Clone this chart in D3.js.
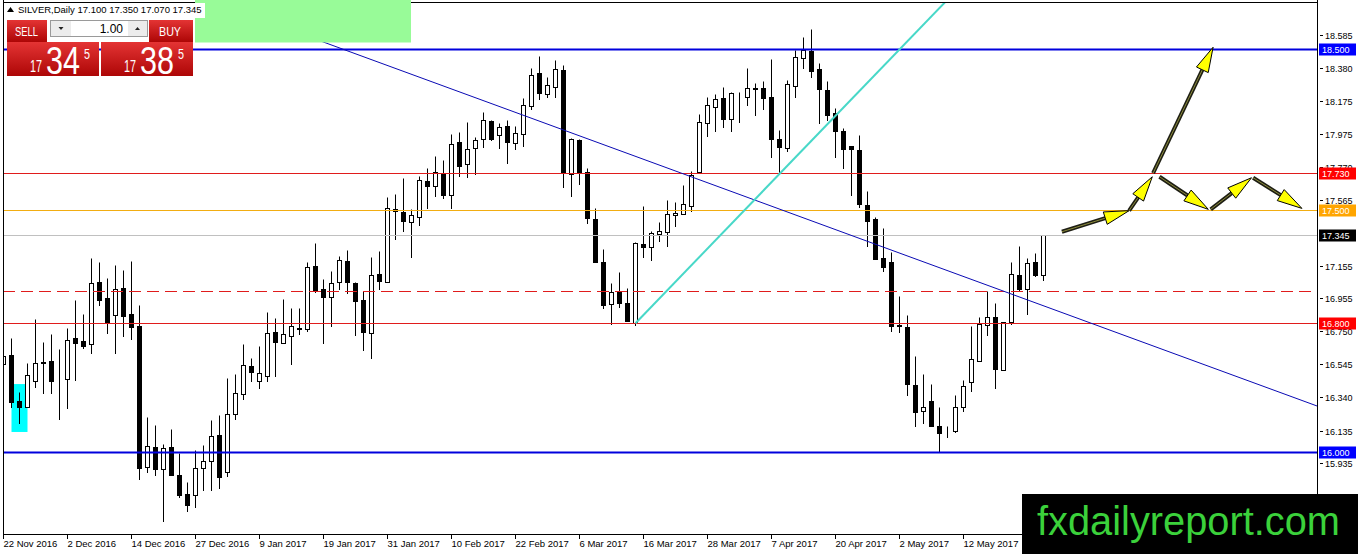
<!DOCTYPE html>
<html>
<head>
<meta charset="utf-8">
<script src="https://cdn.jsdelivr.net/npm/d3@7"></script>
<style>
  body { margin: 0; background: #fff; overflow: hidden; }
  svg { display: block; font-family: "Liberation Sans", Arial, sans-serif; }
</style>
</head>
<body>
<div id="chart-area"></div>
<script>
// Global Variables
const W = 1358, H = 554
const PLOT = { LEFT: 3, RIGHT: 1317, TOP: 3, BOTTOM: 534 }

// Daily OHLC, SILVER, 22 Nov 2016 .. 26 May 2017
const opens = [16.547,16.603,16.316,16.279,16.444,16.556,16.566,16.446,16.452,16.706,
  16.690,16.669,17.054,16.954,16.853,17.016,16.855,16.783,15.911,16.035,
  15.894,16.031,15.857,15.741,15.737,15.904,15.946,16.107,15.876,16.235,
  16.360,16.535,16.440,16.470,16.743,16.679,16.723,16.766,16.762,17.155,
  17.010,16.965,17.053,17.188,17.047,16.944,16.737,17.105,17.058,17.506,
  17.492,17.430,17.461,17.682,17.653,17.729,17.593,17.921,17.785,17.884,
  17.942,18.054,17.967,18.023,17.919,17.971,18.149,18.353,18.219,18.267,
  18.370,17.725,17.936,17.735,17.444,17.181,16.917,16.996,16.923,16.799,
  17.291,17.275,17.351,17.368,17.469,17.475,17.529,17.739,18.039,18.143,
  18.194,18.064,18.202,18.200,18.260,18.256,18.202,17.942,17.888,18.273,
  18.442,18.488,18.374,18.246,18.101,17.992,17.899,17.874,17.533,17.446,
  17.202,17.177,16.785,16.774,16.417,16.258,16.320,16.163,16.132,16.134,
  16.283,16.438,16.568,16.789,16.841,16.510,16.809,17.099,17.010,17.177,
  17.100]
const highs = [16.851,16.706,16.374,16.551,16.824,16.686,16.733,16.640,16.768,16.944,
  16.857,17.202,17.182,17.078,17.161,17.130,17.186,16.913,16.217,16.167,
  16.051,16.142,15.993,15.814,16.014,16.045,16.200,16.231,16.458,16.483,
  16.670,16.585,16.660,16.871,16.830,16.948,16.892,16.896,17.179,17.299,
  17.072,17.124,17.217,17.254,17.053,17.000,17.208,17.248,17.585,17.601,
  17.698,17.506,17.715,17.764,17.837,17.812,17.971,17.983,18.045,17.957,
  18.111,18.060,18.039,18.060,18.023,18.194,18.380,18.457,18.329,18.432,
  18.401,17.950,17.940,17.760,17.512,17.258,17.047,17.116,17.016,17.306,
  17.527,17.374,17.425,17.564,17.554,17.657,17.746,18.095,18.200,18.221,
  18.262,18.235,18.235,18.380,18.287,18.302,18.436,17.998,18.308,18.494,
  18.577,18.624,18.411,18.304,18.132,18.012,17.899,17.967,17.620,17.456,
  17.388,17.239,16.969,16.851,16.597,16.485,16.423,16.279,16.165,16.355,
  16.448,16.783,16.841,17.000,16.923,16.805,17.182,17.279,17.202,17.237,
  17.350]
const lows = [16.489,16.283,16.184,16.279,16.407,16.370,16.370,16.208,16.277,16.448,
  16.644,16.613,16.913,16.742,16.617,16.721,16.700,15.832,15.880,15.857,
  15.576,15.857,15.721,15.638,15.663,15.766,15.766,15.781,15.853,16.208,
  16.330,16.440,16.400,16.440,16.470,16.675,16.545,16.731,16.754,16.996,
  16.679,16.783,17.010,16.985,16.727,16.634,16.582,17.010,17.053,17.320,
  17.374,17.208,17.409,17.512,17.591,17.574,17.512,17.715,17.709,17.723,
  17.895,17.936,17.884,17.791,17.878,17.899,18.126,18.188,18.200,18.200,
  17.647,17.591,17.663,17.423,17.177,16.892,16.795,16.903,16.816,16.789,
  17.208,17.192,17.312,17.279,17.405,17.475,17.498,17.735,17.963,17.994,
  18.018,17.994,18.045,18.153,18.093,18.126,17.833,17.725,17.870,18.204,
  18.380,18.324,18.043,18.060,17.833,17.764,17.595,17.518,17.281,17.196,
  17.126,16.754,16.747,16.355,16.165,16.179,16.165,16.010,16.093,16.128,
  16.258,16.382,16.568,16.727,16.400,16.510,16.795,17.000,16.857,17.093,
  17.070]
const closes = [16.597,16.314,16.283,16.477,16.551,16.558,16.444,16.446,16.696,16.680,
  16.659,17.047,16.944,16.810,17.010,16.847,16.775,15.905,16.041,15.894,
  16.024,15.859,15.735,15.673,15.900,15.946,16.101,15.849,16.237,16.365,
  16.540,16.500,16.490,16.737,16.685,16.731,16.783,16.768,17.146,17.002,
  16.965,17.047,17.192,17.053,16.940,16.743,17.097,17.064,17.512,17.496,
  17.436,17.471,17.688,17.653,17.735,17.595,17.909,17.777,17.880,17.936,
  18.060,17.942,18.019,17.925,17.977,18.153,18.339,18.225,18.277,18.374,
  17.733,17.942,17.740,17.450,17.177,16.913,16.996,16.928,16.816,17.295,
  17.270,17.357,17.374,17.477,17.481,17.537,17.719,18.045,18.153,18.188,
  18.068,18.225,18.204,18.256,18.252,18.198,17.944,17.895,18.281,18.448,
  18.494,18.366,18.250,18.091,17.994,17.878,17.878,17.537,17.436,17.196,
  17.150,16.785,16.787,16.421,16.252,16.279,16.165,16.121,16.134,16.279,
  16.411,16.576,16.795,16.836,16.516,16.805,17.103,17.012,17.171,17.099,
  17.345]

// Axis labels
const dateTicks = ["22 Nov 2016","2 Dec 2016","14 Dec 2016","27 Dec 2016","9 Jan 2017",
  "19 Jan 2017","31 Jan 2017","10 Feb 2017","22 Feb 2017","6 Mar 2017","16 Mar 2017",
  "28 Mar 2017","7 Apr 2017","20 Apr 2017","2 May 2017","12 May 2017"]
const dateTickBars = [0,8,16,24,32,40,48,56,64,72,80,88,96,104,112,120]
// 17.360 sits under the last-price tag, so it is not listed
const priceTicks = [18.585,18.380,18.175,17.975,17.770,17.565,17.155,16.955,
  16.750,16.545,16.340,16.135,15.935,15.730]

// Horizontal levels
const bluePrices = [18.5, 16.0]
const redPrices = [17.73, 16.8]
const yellowPrices = [17.5]
const dashedPrices = [17.0]

// Trend lines: [bar, price]
const trendBlue = [[42.69, 18.494], [131.44, 16.882]]
const trendCyan = [[79, 16.80], [107, 18.24]]
const boxBars = [1, 3]
const boxPrices = [16.423, 16.126]

// Projection arrows: [bar, price] -> [bar, price]
const arrowFrom = [[132.3, 17.367], [140.7, 17.498], [143.7, 17.730], [144.5, 17.708], [150.9, 17.506], [156.2, 17.702]]
const arrowTo   = [[140.7, 17.498], [143.6, 17.708], [151.2, 18.511], [150.6, 17.506], [156.0, 17.702], [162.3, 17.512]]

const ask = 17.385

const svg = d3.select("#chart-area").append("svg")
  .attr("width", W)
  .attr("height", H)
  .attr("viewBox", [0, 0, W, H])

// Scales
const x = d3.scaleLinear().domain([0, 130]).range([3.5, 1043.5])
const y = d3.scaleLinear().domain([16, 18.5]).range([452.3, 49])
const py = v => Math.round(y(v)) + 0.5

const defs = svg.append("defs")
defs.append("clipPath").attr("id", "plot")
  .append("rect")
  .attr("x", PLOT.LEFT + 1).attr("y", PLOT.TOP)
  .attr("width", PLOT.RIGHT - PLOT.LEFT - 1).attr("height", PLOT.BOTTOM - PLOT.TOP)
const grad = defs.append("linearGradient").attr("id", "red").attr("x1", 0).attr("y1", 0).attr("x2", 0).attr("y2", 1)
grad.append("stop").attr("offset", 0).attr("stop-color", "#e43434")
grad.append("stop").attr("offset", 1).attr("stop-color", "#ad0606")

const plot = svg.append("g").attr("clip-path", "url(#plot)")

// cyan box (background object)
plot.append("rect")
  .attr("x", x(boxBars[0]))
  .attr("y", y(boxPrices[0]))
  .attr("width", x(boxBars[1]) - x(boxBars[0]))
  .attr("height", y(boxPrices[1]) - y(boxPrices[0]))
  .attr("fill", "#00ffff")

// Candles
const bars = d3.range(opens.length).map(i => ({ i, o: opens[i], h: highs[i], l: lows[i], c: closes[i] }))

plot.selectAll(".wick")
  .data(bars)
  .join("line")
  .attr("class", "wick")
  .attr("x1", d => x(d.i)).attr("x2", d => x(d.i))
  .attr("y1", d => py(d.h)).attr("y2", d => py(d.l) + 0.5)
  .attr("stroke", "#000").attr("stroke-width", 1)

plot.selectAll(".body")
  .data(bars)
  .join("rect")
  .attr("class", "body")
  .attr("x", d => x(d.i) - 2)
  .attr("y", d => py(Math.max(d.o, d.c)))
  .attr("width", 4)
  .attr("height", d => py(Math.min(d.o, d.c)) - py(Math.max(d.o, d.c)))
  .attr("fill", d => d.c >= d.o ? "#fff" : "#000")
  .attr("stroke", "#000").attr("stroke-width", 1)

// Horizontal levels
function hline(p, color, width, dash) {
  plot.append("line")
    .attr("x1", PLOT.LEFT).attr("x2", PLOT.RIGHT)
    .attr("y1", py(p)).attr("y2", py(p))
    .attr("stroke", color).attr("stroke-width", width)
    .attr("stroke-dasharray", dash || null)
}
hline(closes[closes.length - 1], "#c0c0c0", 1)
yellowPrices.forEach(p => hline(p, "#f2ad12", 1))
redPrices.forEach(p => hline(p, "#e01c1c", 1))
dashedPrices.forEach(p => hline(p, "#e01c1c", 1, "12,6"))
bluePrices.forEach(p => hline(p, "#0000dd", 2))

// Trend lines
function lineAt(pts, bar) {
  const [[b0, p0], [b1, p1]] = pts
  return p0 + (p1 - p0) * (bar - b0) / (b1 - b0)
}
const bL = x.invert(PLOT.LEFT), bR = x.invert(PLOT.RIGHT)
plot.append("line")
  .attr("x1", x(bL)).attr("y1", y(lineAt(trendBlue, bL)))
  .attr("x2", x(bR)).attr("y2", y(lineAt(trendBlue, bR)))
  .attr("stroke", "#0a0ab4").attr("stroke-width", 1)

plot.append("line")
  .attr("x1", x(trendCyan[0][0])).attr("y1", y(trendCyan[0][1]))
  .attr("x2", x(160)).attr("y2", y(lineAt(trendCyan, 160)))
  .attr("stroke", "#48d8c8").attr("stroke-width", 2)

// Arrows
const HEAD = 25, HALF = 6.5
arrowFrom.forEach((a, k) => {
  const x1 = x(a[0]), y1 = y(a[1]), x2 = x(arrowTo[k][0]), y2 = y(arrowTo[k][1])
  const len = Math.hypot(x2 - x1, y2 - y1)
  const ux = (x2 - x1) / len, uy = (y2 - y1) / len
  const bx = x2 - ux * Math.min(HEAD, len * 0.8), by = y2 - uy * Math.min(HEAD, len * 0.8)
  plot.append("line").attr("x1", x1).attr("y1", y1).attr("x2", bx).attr("y2", by)
    .attr("stroke", "#1e1e14").attr("stroke-width", 4)
  plot.append("line").attr("x1", x1).attr("y1", y1).attr("x2", bx).attr("y2", by)
    .attr("stroke", "#8c8c3c").attr("stroke-width", 1)
  plot.append("path")
    .attr("d", `M${x2},${y2}L${bx - uy * HALF},${by + ux * HALF}L${bx + uy * HALF},${by - ux * HALF}Z`)
    .attr("fill", "#ffff00").attr("stroke", "#000").attr("stroke-width", 1)
})

// Frame and axes
svg.append("path")
  .attr("d", `M${PLOT.LEFT + 0.5},0V${PLOT.BOTTOM + 0.5}H${PLOT.RIGHT + 0.5}V0M${PLOT.LEFT},${PLOT.TOP - 0.5}H${PLOT.RIGHT}`)
  .attr("fill", "none").attr("stroke", "#000").attr("stroke-width", 1)

const dateAxis = svg.append("g").attr("font-size", 9.5).attr("fill", "#000")
dateTickBars.forEach((b, k) => {
  const tx = x(b)
  dateAxis.append("line").attr("x1", tx).attr("x2", tx).attr("y1", PLOT.BOTTOM).attr("y2", PLOT.BOTTOM + 5).attr("stroke", "#000")
  dateAxis.append("text").attr("x", tx).attr("y", PLOT.BOTTOM + 13).text(dateTicks[k])
})

const priceAxis = svg.append("g").attr("font-size", 9).attr("fill", "#000")
priceTicks.forEach(p => {
  priceAxis.append("line").attr("x1", 1320).attr("x2", 1323).attr("y1", py(p)).attr("y2", py(p)).attr("stroke", "#000")
  priceAxis.append("text").attr("x", 1325).attr("y", py(p)).attr("dy", "0.36em").text(p.toFixed(3))
})

// Level tags on the price axis
const tags = [
  ...bluePrices.map(p => [p, "#0000ff"]),
  ...redPrices.map(p => [p, "#ff0000"]),
  ...yellowPrices.map(p => [p, "#ffa500"]),
  [closes[closes.length - 1], "#000"]
]
tags.forEach(([p, bg]) => {
  const g = svg.append("g")
  g.append("rect").attr("x", 1319).attr("y", py(p) - 6).attr("width", 37).attr("height", 12).attr("fill", bg)
  g.append("text").attr("x", 1322).attr("y", py(p)).attr("dy", "0.36em")
    .attr("font-size", 9).attr("fill", "#fff").text(p.toFixed(3))
})

// green marker box
svg.append("rect").attr("x", 195).attr("y", 0).attr("width", 216).attr("height", 42.5).attr("fill", "#98fb98")

// Header (drawn over the marker box, on its own white strip)
const last = opens.length - 1
svg.append("rect").attr("x", 4).attr("y", 3).attr("width", 201).attr("height", 15).attr("fill", "#fff")
svg.append("path").attr("d", "M7,12L10.5,7L14,12Z").attr("fill", "#000")
svg.append("text").attr("x", 18).attr("y", 13).attr("font-size", 9.5).attr("fill", "#000")
  .text(`SILVER,Daily  ${opens[last].toFixed(3)} ${highs[last].toFixed(3)} ${lows[last].toFixed(3)} ${closes[last].toFixed(3)}`)

// One-click trading panel
const panel = svg.append("g")
panel.append("rect").attr("x", 7).attr("y", 20).attr("width", 40).attr("height", 22).attr("fill", "url(#red)")
panel.append("rect").attr("x", 149).attr("y", 20).attr("width", 44).attr("height", 22).attr("fill", "url(#red)")
panel.append("text").attr("x", 15).attr("y", 36).attr("font-size", 13).attr("fill", "#fff")
  .attr("textLength", 23).attr("lengthAdjust", "spacingAndGlyphs").text("SELL")
panel.append("text").attr("x", 159).attr("y", 36).attr("font-size", 13).attr("fill", "#fff")
  .attr("textLength", 22).attr("lengthAdjust", "spacingAndGlyphs").text("BUY")
panel.append("rect").attr("x", 50.5).attr("y", 20.5).attr("width", 97).attr("height", 16).attr("fill", "#fff").attr("stroke", "#9a9a9a")
panel.append("rect").attr("x", 51).attr("y", 21).attr("width", 20).attr("height", 15).attr("fill", "#ececec")
panel.append("rect").attr("x", 128).attr("y", 21).attr("width", 19).attr("height", 15).attr("fill", "#ececec")
panel.append("path").attr("d", "M58.5,27H63.5L61,30Z").attr("fill", "#222")
panel.append("path").attr("d", "M135,30H140L137.5,27Z").attr("fill", "#222")
panel.append("text").attr("x", 123).attr("y", 33).attr("font-size", 12).attr("text-anchor", "end").attr("fill", "#000").text("1.00")

function priceBox(x0, p) {
  const s = p.toFixed(3)
  const big = s.split(".")[0], mid = s.split(".")[1].slice(0, 2), small = s.split(".")[1].slice(2)
  panel.append("rect").attr("x", x0).attr("y", 42).attr("width", 92).attr("height", 34).attr("fill", "url(#red)")
  panel.append("text").attr("x", x0 + 23).attr("y", 72).attr("font-size", 16).attr("fill", "#fff")
    .attr("textLength", 12).attr("lengthAdjust", "spacingAndGlyphs").text(big)
  panel.append("text").attr("x", x0 + 39).attr("y", 73.5).attr("font-size", 38).attr("fill", "#fff")
    .attr("textLength", 34).attr("lengthAdjust", "spacingAndGlyphs").text(mid)
  panel.append("text").attr("x", x0 + 77).attr("y", 59).attr("font-size", 14).attr("fill", "#fff")
    .attr("textLength", 6).attr("lengthAdjust", "spacingAndGlyphs").text(small)
}
priceBox(7, closes[last])
priceBox(101, ask)

// Watermark
svg.append("rect").attr("x", 1022).attr("y", 494).attr("width", 336).attr("height", 60).attr("fill", "#000")
svg.append("text").attr("x", 1037).attr("y", 535).attr("font-size", 40).attr("fill", "#3bd13b")
  .attr("textLength", 303).attr("lengthAdjust", "spacingAndGlyphs").text("fxdailyreport.com")
</script>
</body>
</html>
